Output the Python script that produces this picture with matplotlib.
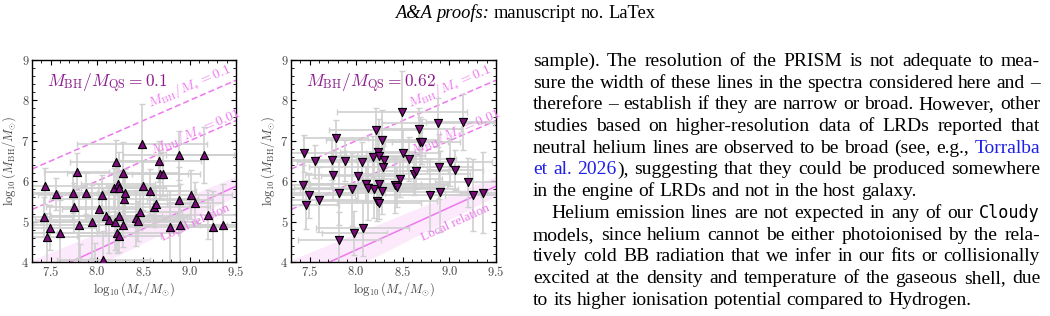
import numpy as np
import matplotlib
matplotlib.use("Agg")
import matplotlib.pyplot as plt
from matplotlib.ticker import MultipleLocator, FuncFormatter

plt.rcParams['mathtext.fontset'] = 'cm'
plt.rcParams['font.family'] = 'serif'
plt.rcParams['font.serif'] = ['Liberation Serif', 'DejaVu Serif']

# ---- data ----
logmstar = [7.44, 7.43, 7.46, 7.49, 7.56, 7.60, 7.74, 7.75, 7.78, 7.81,
            7.82, 7.88, 7.95, 7.98, 8.02, 8.06, 8.07, 8.10, 8.13, 8.18,
            8.19, 8.21, 8.22, 8.23, 8.24, 8.24, 8.24, 8.28, 8.28, 8.29,
            8.30, 8.42, 8.44, 8.47, 8.49, 8.50, 8.57, 8.62, 8.64, 8.67,
            8.68, 8.71, 8.79, 8.88, 8.89, 8.90, 9.01, 9.06, 9.15, 9.20,
            9.25, 9.36]
# M_BH / M_QS = 0.1
logmbh_qs01 = [5.88, 5.11, 4.61, 4.85, 5.68, 4.73, 5.72, 5.35, 6.24, 4.91,
               3.75, 5.70, 5.00, 3.93, 5.32, 5.66, 4.06, 5.13, 5.03, 5.82,
               4.99, 6.47, 4.72, 5.92, 5.13, 5.82, 4.64, 4.92, 6.21, 5.57,
               5.70, 5.09, 5.01, 5.24, 6.92, 5.89, 5.75, 5.36, 5.44, 6.49,
               6.18, 6.18, 4.86, 6.64, 5.54, 4.92, 5.67, 5.47, 6.65, 5.17,
               4.86, 4.92]
# M_BH / M_QS = 0.62
logmbh_qs062 = [6.69, 5.91, 5.42, 5.65, 6.49, 5.54, 6.53, 6.15, 7.06, 5.71,
                4.54, 6.51, 5.80, 4.72, 6.13, 6.47, 4.84, 5.93, 5.83, 6.61,
                5.80, 7.27, 5.52, 6.73, 5.93, 6.63, 5.46, 5.75, 7.02, 6.36,
                6.53, 5.91, 5.85, 6.05, 7.72, 6.69, 6.55, 6.17, 6.25, 7.30,
                6.98, 6.98, 5.66, 7.45, 6.36, 5.74, 6.48, 6.28, 7.47, 5.97,
                5.66, 5.72]
xerr = [0.45, 0.30, 0.35, 0.50, 0.25, 0.40, 0.60, 0.30, 0.35, 0.50,
        0.45, 0.30, 0.55, 0.35, 0.40, 0.70, 0.50, 0.60, 0.80, 0.35,
        0.90, 0.50, 0.65, 0.40, 0.75, 0.50, 0.45, 0.35, 0.60, 0.80,
        0.30, 0.55, 0.50, 0.45, 0.70, 0.40, 0.50, 0.60, 0.35, 0.45,
        0.30, 0.40, 0.55, 0.60, 0.35, 0.50, 0.45, 0.30, 0.40, 0.35,
        0.30, 0.25]
yerr = [0.45, 0.50, 0.60, 0.55, 0.40, 0.80, 0.50, 0.60, 0.45, 0.80,
        0.70, 0.50, 0.90, 0.55, 0.60, 0.50, 0.70, 0.45, 0.80, 0.50,
        0.70, 0.55, 0.50, 0.60, 0.50, 0.90, 0.40, 0.55, 0.75, 0.50,
        0.60, 0.70, 0.50, 0.45, 1.00, 0.60, 0.55, 0.50, 0.45, 0.50,
        0.60, 0.55, 0.90, 0.60, 0.80, 1.00, 0.60, 0.50, 0.70, 0.60,
        0.90, 1.00]
qs_labels = ["0.1", "0.62"]
ratio_lines = [0.1, 0.01]
ratio_labels = ["0.1", "0.01"]
# local relation: log MBH = a + b (log M* - 11), with uncertainties
local_a, local_b = 7.45, 1.05
local_da, local_db = 0.08, 0.11

W, H = 1050, 316
fig = plt.figure(figsize=(W / 100, H / 100), dpi=100)


def fbox(x0, y0, x1, y1):
    return [x0 / W, 1 - y1 / H, (x1 - x0) / W, (y1 - y0) / H]


violet = '#ee77ee'
purple = '#8b1c8b'
grey_txt = '#444444'

boxes = [fbox(32, 60, 236, 262), fbox(291, 60, 496, 262)]
panel_y = [logmbh_qs01, logmbh_qs062]
markers = ['^', 'v']

xx = np.linspace(7.3, 9.5, 100)
local = local_a + local_b * (xx - 11)
band_hi = (local_a + local_da) + (local_b - local_db) * (xx - 11)
band_lo = (local_a - local_da) + (local_b + local_db) * (xx - 11)

for box, yv, mk, qs in zip(boxes, panel_y, markers, qs_labels):
    ax = fig.add_axes(box)
    ax.set_xlim(7.3, 9.5)
    ax.set_ylim(4, 9)
    ax.fill_between(xx, band_lo, band_hi, color=violet, alpha=0.15, lw=0, zorder=1)
    ax.plot(xx, local, color=violet, lw=1.1, zorder=1.5)
    for r in ratio_lines:
        ax.plot(xx, xx + np.log10(r), color=violet, lw=1.1, ls=(0, (4, 2)), zorder=1.5)
    ax.errorbar(logmstar, yv, xerr=xerr, yerr=yerr, fmt='none', ecolor='#d0d0d0',
                elinewidth=1.2, capsize=2.5, capthick=1.0, zorder=2)
    ax.scatter(logmstar, yv, marker=mk, s=34, c='#7a0a7a', edgecolors='black',
               linewidths=0.8, zorder=4)

    ax.xaxis.set_major_locator(MultipleLocator(0.5))
    ax.xaxis.set_minor_locator(MultipleLocator(0.1))
    ax.yaxis.set_major_locator(MultipleLocator(1))
    ax.yaxis.set_minor_locator(MultipleLocator(0.2))
    ax.xaxis.set_major_formatter(FuncFormatter(lambda v, p: f'${v:.1f}$'))
    ax.yaxis.set_major_formatter(FuncFormatter(lambda v, p: f'${v:.0f}$'))
    ax.tick_params(which='both', direction='in', top=True, right=True,
                   labelsize=9, labelcolor=grey_txt, pad=2)
    ax.tick_params(which='major', length=3.5, width=0.8)
    ax.tick_params(which='minor', length=2, width=0.6)
    for s in ax.spines.values():
        s.set_linewidth(1.0)
    ax.set_xlabel(r'$\log_{10}(M_{*}/M_{\odot})$', fontsize=9, color=grey_txt, labelpad=1)
    ax.set_ylabel(r'$\log_{10}(M_{\rm BH}/M_{\odot})$', fontsize=9, color=grey_txt, labelpad=2)

    ax.text(0.075, 0.885, r'$M_{\rm BH}/M_{\rm QS} = ' + qs + '$', transform=ax.transAxes,
            color=purple, fontsize=12.5, va='center', ha='left')

    # rotated labels along the lines
    def angle(slope, x, y):
        return ax.transData.transform_angles(np.array([np.degrees(np.arctan(slope))]),
                                             np.array([[x, y]]))[0]
    for r, lab, (lx, ly) in zip(ratio_lines, ratio_labels, [(9.0, 8.36), (9.06, 7.22)]):
        ax.text(lx, ly, r'$M_{\rm BH}/M_{*} = ' + lab + '$', color=violet, fontsize=10,
                rotation=angle(1.0, lx, ly), rotation_mode='anchor', ha='center', va='center')
    ax.text(9.06, 4.96, 'Local relation', color=violet, fontsize=9.5,
            rotation=angle(local_b, 9.06, 4.96), rotation_mode='anchor', ha='center', va='center')

# ---- page text ----
FS = 14.0
styles = {
    'rm': dict(family='Liberation Serif', color='black'),
    'it': dict(family='Liberation Serif', style='italic', color='black'),
    'link': dict(family='Liberation Serif', color='#1f1fe6'),
    'tt': dict(family='DejaVu Sans Mono', color='black'),
}
size_scale = {'rm': 1.0, 'it': 1.0, 'link': 1.0, 'tt': 0.86}
renderer = fig.canvas.get_renderer()


def measure(s, st, fs):
    t = fig.text(0, 0, s, fontsize=fs * size_scale[st], va='baseline', ha='left', **styles[st])
    return t, t.get_window_extent(renderer).width


def parse(line):
    words, cur, style, buf = [], [], 'rm', ''
    for ch in line + ' ':
        if ch in '[]{}<> ':
            if buf:
                cur.append((buf, style))
                buf = ''
            if ch == '[':
                style = 'link'
            elif ch == '{':
                style = 'tt'
            elif ch == '<':
                style = 'it'
            elif ch in ']}>':
                style = 'rm'
            elif ch == ' ' and cur:
                words.append(cur)
                cur = []
        else:
            buf += ch
    return words


def space_width(fs):
    t1, w1 = measure('x x', 'rm', fs)
    t2, w2 = measure('xx', 'rm', fs)
    t1.remove()
    t2.remove()
    return w1 - w2


def place_line(line, left, right, base, fs, mode):
    words = parse(line)
    arts, widths = [], []
    for w in words:
        parts = [measure(s, st, fs) for s, st in w]
        arts.append(parts)
        widths.append(sum(b for _, b in parts))
    space = space_width(fs)
    total = sum(widths) + space * (len(words) - 1)
    if mode == 'justify':
        gap = (right - left - sum(widths)) / (len(words) - 1)
        x = left
    elif mode == 'center':
        gap = space
        x = (left + right) / 2 - total / 2
    else:
        gap = space
        x = left
    for parts, wsum in zip(arts, widths):
        px = x
        for t, bw in parts:
            t.set_position((px / W, 1 - base / H))
            px += bw
        x += wsum + gap


# header
place_line('<A&A proofs:> manuscript no. LaTex', 0, W, 18, 13.3, 'center')

body = [
    ('sample). The resolution of the PRISM is not adequate to mea-', 0, 'justify'),
    ('sure the width of these lines in the spectra considered here and \u2013', 0, 'justify'),
    ('therefore \u2013 establish if they are narrow or broad. However, other', 0, 'justify'),
    ('studies based on higher-resolution data of LRDs reported that', 0, 'justify'),
    ('neutral helium lines are observed to be broad (see, e.g., [Torralba]', 0, 'justify'),
    ('[et al. 2026]), suggesting that they could be produced somewhere', 0, 'justify'),
    ('in the engine of LRDs and not in the host galaxy.', 0, 'left'),
    ('Helium emission lines are not expected in any of our {Cloudy}', 18, 'justify'),
    ('models, since helium cannot be either photoionised by the rela-', 0, 'justify'),
    ('tively cold BB radiation that we infer in our fits or collisionally', 0, 'justify'),
    ('excited at the density and temperature of the gaseous shell, due', 0, 'justify'),
    ('to its higher ionisation potential compared to Hydrogen.', 0, 'left'),
]
x_left, x_right = 533, 1040
base0, dy = 66, 21.7
for i, (line, indent, mode) in enumerate(body):
    place_line(line, x_left + indent, x_right, base0 + i * dy, FS, mode)

fig.savefig('out.png', dpi=100)
